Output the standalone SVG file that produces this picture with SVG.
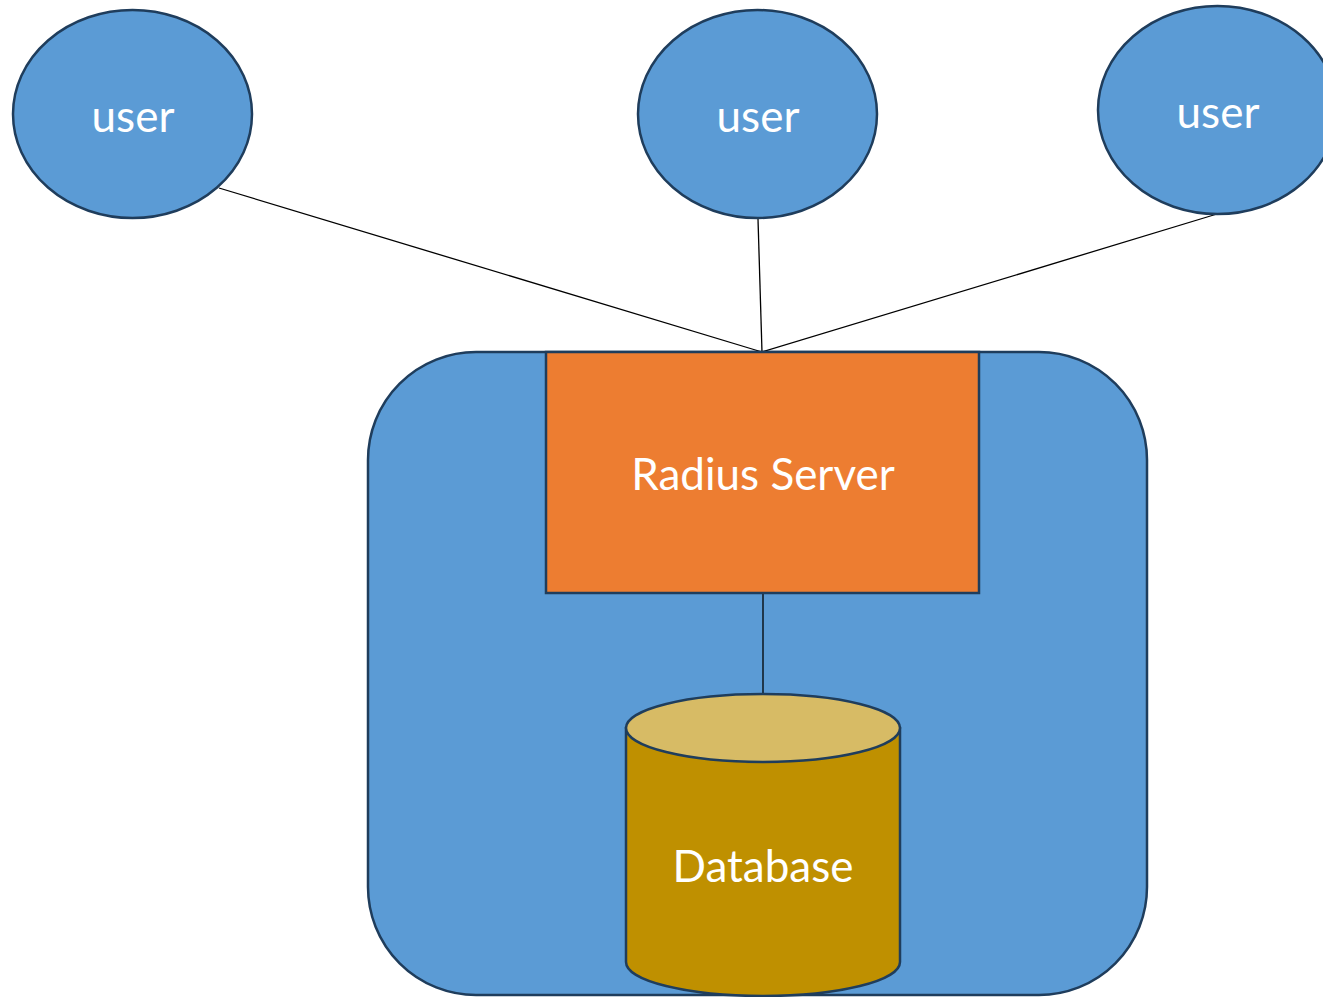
<svg xmlns="http://www.w3.org/2000/svg" width="1323" height="997" viewBox="0 0 1323 997">
<style>
.shape{stroke:#1F3D5C;stroke-width:2.5}
.blue{fill:#5B9BD5}
.lbl{font-family:Lato,"Open Sans",sans-serif;font-size:44px;fill:#FFFFFF;text-anchor:middle}
.conn{stroke:#000000;stroke-width:1.3;fill:none}
</style>
<rect width="1323" height="997" fill="#FFFFFF"/>
<g id="container">
<rect class="shape blue" x="368" y="352" width="779" height="643" rx="108" ry="108"/>
</g>
<g id="connectors">
<line class="conn" x1="219" y1="188" x2="762" y2="352"/>
<line class="conn" x1="758" y1="219" x2="762" y2="352"/>
<line class="conn" x1="1217" y1="214" x2="762" y2="352"/>
<line class="conn" x1="763" y1="593" x2="763" y2="694"/>
</g>
<g id="user1">
<ellipse class="shape blue" cx="132.5" cy="114" rx="119.5" ry="104"/>
<text class="lbl" x="133" y="132">user</text>
</g>
<g id="user2">
<ellipse class="shape blue" cx="757.5" cy="114" rx="119.5" ry="104"/>
<text class="lbl" x="758" y="132">user</text>
</g>
<g id="user3">
<ellipse class="shape blue" cx="1217.5" cy="110" rx="119.5" ry="104"/>
<text class="lbl" x="1218" y="128">user</text>
</g>
<g id="radius">
<rect class="shape" x="546" y="352" width="433" height="241" fill="#ED7D31"/>
<text class="lbl" x="763" y="490">Radius Server</text>
</g>
<g id="database">
<path class="shape" d="M626 728 L626 962 A137 34 0 0 0 900 962 L900 728 Z" fill="#BF9000"/>
<ellipse class="shape" cx="763" cy="728" rx="137" ry="34" fill="#D7BB65"/>
<text class="lbl" x="763" y="882">Database</text>
</g>
</svg>
